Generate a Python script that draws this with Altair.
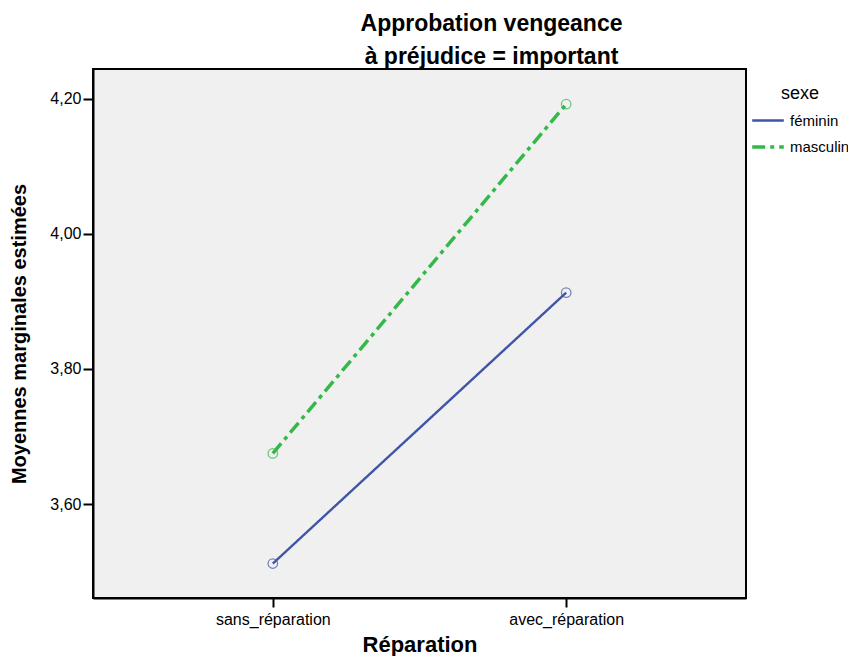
import altair as alt
import pandas as pd

reparation = ["sans_réparation", "avec_réparation"]
sexe = ["féminin", "masculin"]
feminin = [3.512, 3.913]
masculin = [3.675, 4.192]

rows = []
for i, r in enumerate(reparation):
    rows.append({"Réparation": r, "sexe": "féminin", "val": feminin[i]})
    rows.append({"Réparation": r, "sexe": "masculin", "val": masculin[i]})
df = pd.DataFrame(rows)

FONT = "Liberation Sans"
colors = ["#3F56A8", "#35B84A"]

x = alt.X("Réparation:N", sort=reparation,
          scale=alt.Scale(type="point", padding=0.613),
          axis=alt.Axis(title="Réparation", labelAngle=0, labelFontSize=16,
                        labelFont=FONT, labelColor="black", titleFont=FONT,
                        titleFontSize=22, titleFontWeight="bold", titleColor="black",
                        tickColor="black", tickWidth=2, tickSize=9,
                        domainColor="black", domainWidth=2, labelPadding=4,
                        titlePadding=7))
y = alt.Y("val:Q", scale=alt.Scale(domain=[3.461, 4.244], nice=False, zero=False),
          axis=alt.Axis(title="Moyennes marginales estimées", values=[3.6, 3.8, 4.0, 4.2],
                        labelExpr="replace(format(datum.value, '.2f'), '.', ',')",
                        labelFontSize=16, labelFont=FONT, labelColor="black",
                        titleFont=FONT, titleFontSize=20, titleFontWeight="bold",
                        titleColor="black", tickColor="black", tickWidth=2, tickSize=10,
                        domainColor="black", domainWidth=2, grid=False, labelPadding=2,
                        titlePadding=20))
color = alt.Color("sexe:N", scale=alt.Scale(domain=sexe, range=colors),
                  legend=alt.Legend(title="sexe", orient="none", legendX=657, legendY=16,
                                    symbolType="stroke", symbolStrokeWidth=3, symbolSize=1000,
                                    titleFont=FONT, titleFontSize=18, titleFontWeight="normal",
                                    titleColor="black", labelFont=FONT, labelFontSize=15,
                                    labelColor="black", titleAlign="center", titleAnchor="middle",
                                    rowPadding=-7, titlePadding=0, labelOffset=4))
dash = alt.StrokeDash("sexe:N", scale=alt.Scale(domain=sexe, range=[[1, 0], [13, 5, 4, 5]]),
                      legend=None)
width = alt.StrokeWidth("sexe:N", scale=alt.Scale(domain=sexe, range=[2.4, 3.5]), legend=None)

lines = alt.Chart(df).mark_line().encode(x=x, y=y, color=color, strokeDash=dash, strokeWidth=width)
points = alt.Chart(df).mark_point(shape="circle", size=90, filled=False, strokeWidth=1.3).encode(
    x=x, y=y, color=alt.Color("sexe:N", scale=alt.Scale(domain=sexe, range=colors), legend=None))

chart = alt.layer(lines, points).properties(
    width=653, height=529,
    title=alt.TitleParams(["Approbation vengeance", "à préjudice = important"],
                          font=FONT, fontSize=23, fontWeight="bold", color="black",
                          lineHeight=33, dx=72, offset=0, anchor="middle"),
    autosize=alt.AutoSizeParams(type="none"),
    padding={"left": 85, "top": 61, "right": 102, "bottom": 58},
    background="white",
).configure_view(fill="#F0F0F0", stroke="black", strokeWidth=2)

chart.save("out.html", embed_options={"renderer": "svg", "actions": False})
